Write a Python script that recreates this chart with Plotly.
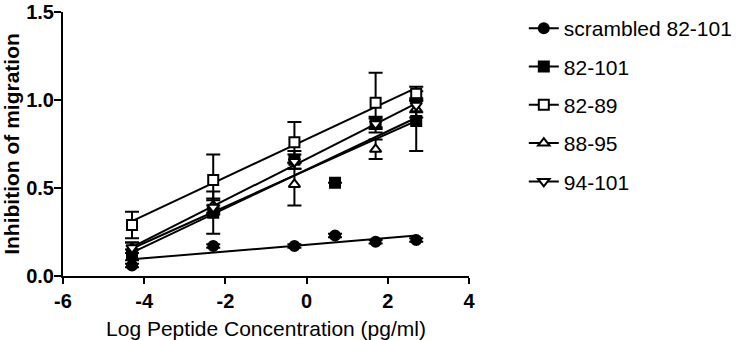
import numpy as np
import plotly.graph_objects as go

# ---- data ----
log_conc = [-4.3, -2.3, -0.3, 0.7, 1.7, 2.7]
log_conc_5 = [-4.3, -2.3, -0.3, 1.7, 2.7]

scr_y = [0.06, 0.17, 0.17, 0.23, 0.195, 0.205]
scr_err = [0.01, 0.01, 0.01, 0.01, 0.01, 0.01]

p82_101_y = [0.12, 0.36, 0.66, 0.53, 0.875, 0.88]
p82_101_err = [0.03, 0.12, 0.05, 0.0, 0.03, 0.17]

p82_89_y = [0.29, 0.545, 0.76, 0.985, 1.035]
p82_89_err = [0.075, 0.145, 0.115, 0.17, 0.04]

p88_95_y = [0.16, 0.40, 0.52, 0.72, 0.95]
p88_95_err = [0.03, 0.04, 0.12, 0.055, 0.05]

p94_101_y = [0.16, 0.39, 0.65, 0.865, 0.97]
p94_101_err = [0.03, 0.04, 0.04, 0.03, 0.04]

x_ticks = [-6, -4, -2, 0, 2, 4]
y_ticks = [0.0, 0.5, 1.0, 1.5]

series = [
    ("scrambled 82-101", log_conc, scr_y, scr_err, "circle", "black"),
    ("82-101", log_conc, p82_101_y, p82_101_err, "square", "black"),
    ("82-89", log_conc_5, p82_89_y, p82_89_err, "square", "white"),
    ("88-95", log_conc_5, p88_95_y, p88_95_err, "triangle-up", "white"),
    ("94-101", log_conc_5, p94_101_y, p94_101_err, "triangle-down", "white"),
]

FONT = "Arial, Liberation Sans, Helvetica, sans-serif"
fig = go.Figure()

# regression lines (fit from the data)
for name, xs, ys, err, sym, fill in series:
    k, b = np.polyfit(xs, ys, 1)
    xl = [min(xs), max(xs)]
    fig.add_trace(go.Scatter(x=xl, y=[k * v + b for v in xl], mode="lines",
                             line=dict(color="black", width=2),
                             showlegend=False, hoverinfo="skip"))

# points with error bars
for name, xs, ys, err, sym, fill in series:
    fig.add_trace(go.Scatter(
        x=xs, y=ys, mode="markers", showlegend=False, name=name,
        marker=dict(symbol=sym, size=10, color=fill,
                    line=dict(color="black", width=2)),
        error_y=dict(type="data", array=err, visible=True,
                     color="black", thickness=2, width=7)))

# legend entries
for i, (name, xs, ys, err, sym, fill) in enumerate(series):
    fig.add_trace(go.Scatter(
        x=[None], y=[None], mode="lines+markers", name=name,
        legendgroup=f"g{i}",
        line=dict(color="black", width=2),
        marker=dict(symbol=sym, size=10, color=fill,
                    line=dict(color="black", width=2))))

fig.update_layout(
    width=750, height=340,
    margin=dict(l=63, r=281, t=12, b=64, autoexpand=False),
    paper_bgcolor="white", plot_bgcolor="white",
    font=dict(family=FONT, color="black"),
    legend=dict(x=1.135, y=1.015, xanchor="left", yanchor="top",
                font=dict(size=21, family=FONT, color="black"),
                tracegroupgap=8, bgcolor="rgba(0,0,0,0)", maxheight=320),
    xaxis=dict(range=[-6, 4], tickvals=x_ticks,
               ticktext=[f"<b>{v}</b>" for v in x_ticks],
               showline=True, linecolor="black", linewidth=2,
               ticks="outside", tickwidth=2, ticklen=6, tickcolor="black",
               showgrid=False, zeroline=False, automargin=False,
               ticklabeloverflow="allow",
               tickfont=dict(size=20, family=FONT),
               title=dict(text="Log Peptide Concentration (pg/ml)",
                          font=dict(size=21, family=FONT), standoff=10)),
    yaxis=dict(range=[0, 1.5], tickvals=y_ticks,
               ticktext=[f"<b>{v:.1f}</b>" for v in y_ticks],
               showline=True, linecolor="black", linewidth=2,
               ticks="outside", tickwidth=2, ticklen=7, tickcolor="black",
               showgrid=False, zeroline=False, automargin=False,
               ticklabeloverflow="allow", ticklabelstandoff=-4,
               tickfont=dict(size=20, family=FONT),
               title=dict(text="<b>Inhibition of migration</b>",
                          font=dict(size=21, family=FONT), standoff=4)),
)

fig.write_html("out.html", config={"displayModeBar": False},
               post_script="document.body.style.margin='0';")
